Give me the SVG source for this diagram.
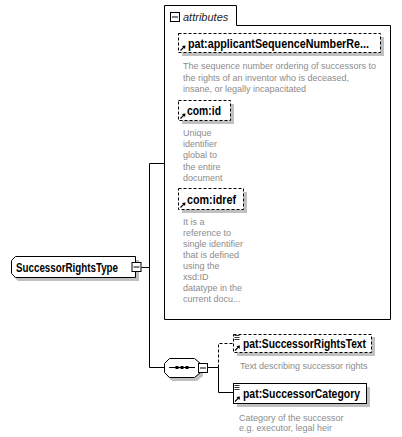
<svg xmlns="http://www.w3.org/2000/svg" xmlns:xlink="http://www.w3.org/1999/xlink" width="402" height="437" viewBox="0 0 402 437">
<style>
.title{font-family:"Liberation Sans",Arial,sans-serif;font-weight:bold;font-size:12px;fill:#000}
.desc{font-family:"Liberation Sans",Arial,sans-serif;font-size:9px;fill:#8c8c8c}
.box{fill:#fff;stroke:#000;stroke-width:1}
.dash{stroke-dasharray:3,2}
.shadow{fill:#c0c0c0}
.conn{fill:none;stroke:#000;stroke-width:1}
.italic{font-family:"Liberation Sans",Arial,sans-serif;font-style:italic;font-size:11px;fill:#222}
</style>
<defs>
<g id="arr"><path d="M0,5 L3.6,1.4" stroke="#000" stroke-width="1.2" fill="none"/><path d="M5,0 L1.4,0.4 L4.6,3.6 Z" fill="#000"/></g>
<g id="lines"><path d="M0,0.5 H5 M0,2.5 H5 M0,4.5 H5" stroke="#000" stroke-width="0.8" fill="none"/></g>
<g id="minus"><rect x="0.5" y="0.5" width="9" height="9" fill="#fff" stroke="#000"/><path d="M2,5 H8" stroke="#000"/></g>
</defs>

<g id="connectors">
<path class="conn" d="M141.5,267.5 H149.5 M149.5,163.5 V367.5 M149.5,163.5 H164.5 M149.5,367.5 H164"/>
<path class="conn" d="M208,367.5 H218.5 V392.5 H234"/>
<path class="conn dash" d="M218.5,367.5 V343.5 H234"/>
</g>

<g id="attributes">
<path class="box" d="M164.5,5.5 H236.5 V25.5 H390.5 V319.5 H164.5 Z"/>
<use xlink:href="#minus" x="170" y="12"/>
<text class="italic" x="183" y="20.5">attributes</text>
</g>

<g id="attr-applicantSequenceNumberRef">
<rect class="shadow" x="182" y="37" width="202" height="19"/>
<rect class="box dash" x="178.5" y="33.5" width="202" height="19"/>
<use xlink:href="#arr" x="180.5" y="45.5"/>
<text class="title" x="188" y="47.5" textLength="181" lengthAdjust="spacingAndGlyphs">pat:applicantSequenceNumberRe...</text>
<text class="desc" x="183" y="69">The sequence number ordering of successors to</text>
<text class="desc" x="183" y="80.5">the rights of an inventor who is deceased,</text>
<text class="desc" x="183" y="92">insane, or legally incapacitated</text>
</g>

<g id="attr-com-id">
<rect class="shadow" x="182" y="104" width="52" height="20"/>
<rect class="box dash" x="178.5" y="100.5" width="52" height="20"/>
<use xlink:href="#arr" x="180.5" y="113.5"/>
<text class="title" x="187" y="115" textLength="34" lengthAdjust="spacingAndGlyphs">com:id</text>
<text class="desc" x="183" y="136">Unique</text>
<text class="desc" x="183" y="147">identifier</text>
<text class="desc" x="183" y="158">global to</text>
<text class="desc" x="183" y="169.5">the entire</text>
<text class="desc" x="183" y="180.5">document</text>
</g>

<g id="attr-com-idref">
<rect class="shadow" x="182" y="192" width="65" height="21"/>
<rect class="box dash" x="178.5" y="188.5" width="65" height="21"/>
<use xlink:href="#arr" x="180.5" y="202.5"/>
<text class="title" x="187" y="204" textLength="49" lengthAdjust="spacingAndGlyphs">com:idref</text>
<text class="desc" x="183" y="225">It is a</text>
<text class="desc" x="183" y="236">reference to</text>
<text class="desc" x="183" y="247">single identifier</text>
<text class="desc" x="183" y="258">that is defined</text>
<text class="desc" x="183" y="269">using the</text>
<text class="desc" x="183" y="280">xsd:ID</text>
<text class="desc" x="183" y="291">datatype in the</text>
<text class="desc" x="183" y="302">current docu...</text>
</g>

<g id="SuccessorRightsType">
<path class="shadow" d="M18,260 H139 V281 H18 L14,277 V264 Z"/>
<path class="box" d="M15.5,256.5 H135.5 V277.5 H15.5 L11.5,273.5 V260.5 Z"/>
<text class="title" x="16" y="271.5" textLength="102" lengthAdjust="spacingAndGlyphs">SuccessorRightsType</text>
<use xlink:href="#minus" x="131.5" y="262"/>
</g>

<g id="sequence">
<path class="shadow" d="M172,362 H197 L203,367 V376 L197,381 H172 L167,376 V367 Z"/>
<path class="box" d="M169.5,358.5 H194.5 L200.5,363.5 V372.5 L194.5,377.5 H169.5 L164.5,372.5 V363.5 Z"/>
<path d="M169,367.5 H195" stroke="#000"/>
<rect x="175.5" y="366" width="3" height="3" fill="#000"/>
<rect x="180.5" y="366" width="3" height="3" fill="#000"/>
<rect x="185.5" y="366" width="3" height="3" fill="#000"/>
<use xlink:href="#minus" x="198" y="363"/>
</g>

<g id="SuccessorRightsText">
<rect class="shadow" x="237" y="337" width="138" height="19"/>
<rect class="box dash" x="233.5" y="334.5" width="138" height="18"/>
<use xlink:href="#lines" x="234.5" y="335"/>
<use xlink:href="#arr" x="235" y="345.5"/>
<text class="title" x="243" y="348" textLength="123" lengthAdjust="spacingAndGlyphs">pat:SuccessorRightsText</text>
<text class="desc" x="240" y="369">Text describing successor rights</text>
</g>

<g id="SuccessorCategory">
<rect class="shadow" x="237" y="387" width="133" height="20"/>
<rect class="box" x="233.5" y="383.5" width="133" height="20"/>
<use xlink:href="#lines" x="234.5" y="385"/>
<use xlink:href="#arr" x="235" y="396.5"/>
<text class="title" x="243" y="398" textLength="117" lengthAdjust="spacingAndGlyphs">pat:SuccessorCategory</text>
<text class="desc" x="239" y="420.5">Category of the successor</text>
<text class="desc" x="239" y="431">e.g. executor, legal heir</text>
</g>
</svg>
